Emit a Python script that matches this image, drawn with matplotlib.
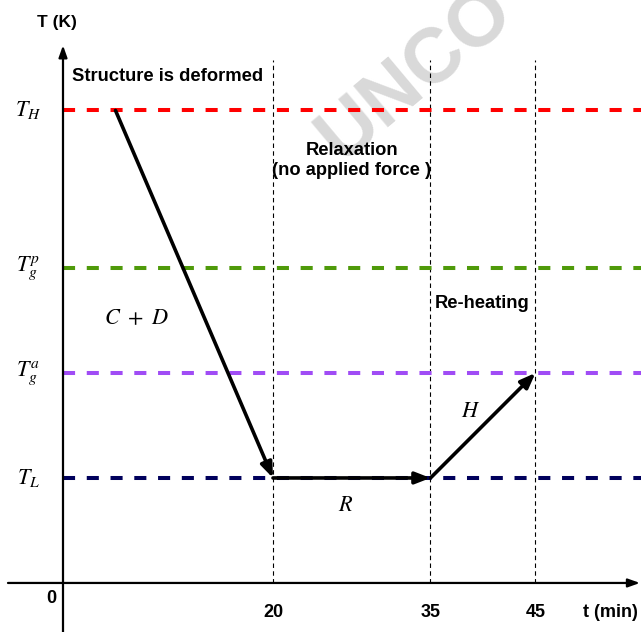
import matplotlib
matplotlib.use("Agg")
import matplotlib.pyplot as plt

plt.rcParams['mathtext.fontset'] = 'stix'
plt.rcParams['font.family'] = ['Liberation Sans', 'DejaVu Sans']

# temperature levels (arbitrary units, axis at 0)
level_names = ['$T_H$', '$T_g^p$', '$T_g^a$', '$T_L$']
level_values = [4.5, 3.0, 2.0, 1.0]
level_colors = ['#ff0000', '#4f9a0a', '#a04cf5', '#00005c']

# time marks (min)
time_marks = [20, 35, 45]
time_labels = ['20', '35', '45']

# path of the process: cooling + deformation, relaxation, re-heating
path_t = [5, 20, 35, 45]
path_T = [4.5, 1.0, 1.0, 2.0]
path_names = ['$C\\ +\\ D$', '$R$', '$H$']

fig = plt.figure(figsize=(6.41, 6.32), dpi=100)
ax = fig.add_axes([0, 0, 1, 1])
ax.set_xlim(-6, 55.05)
ax.set_ylim(-0.467, 5.552)
ax.axis('off')

# watermark
ax.text(341, 632 - 163, 'UNCO', transform=None, fontsize=56,
        fontweight='bold', color='#d9d9d9', rotation=40, rotation_mode='anchor',
        ha='left', va='baseline', zorder=0)

# horizontal levels
for name, val, col in zip(level_names, level_values, level_colors):
    ax.plot([0, 55.05], [val, val], color=col, lw=2.9, dashes=(3, 2.9), zorder=2)
    ax.text(-3.3, val, name, fontsize=16, ha='center', va='center')

# vertical time marks
for t, lab in zip(time_marks, time_labels):
    ax.plot([t, t], [0, 4.98], color='black', lw=0.8, dashes=(4, 3), zorder=1)
    ax.text(t, -0.28, lab, fontsize=13, fontweight='bold', ha='center', va='center')

ax.text(-1.14, -0.15, '0', fontsize=13, fontweight='bold', ha='center', va='center')
ax.text(49.5, -0.28, 't (min)', fontsize=13, fontweight='bold', ha='left', va='center')

# axes with arrows
axis_arrow = dict(arrowstyle='-|>,head_length=0.7,head_width=0.25', lw=1.6,
                  color='black', shrinkA=0, shrinkB=0)
ax.annotate('', xy=(54.95, 0), xytext=(-5.24, 0), arrowprops=axis_arrow, zorder=3)
ax.annotate('', xy=(0, 5.12), xytext=(0, -0.47), arrowprops=axis_arrow, zorder=3)
ax.text(-0.6, 5.34, 'T (K)', fontsize=12.5, fontweight='bold', ha='center', va='center')

# process arrows
for i in range(len(path_t) - 1):
    ax.annotate('', xy=(path_t[i + 1], path_T[i + 1]), xytext=(path_t[i], path_T[i]),
                arrowprops=dict(arrowstyle='-|>,head_length=0.9,head_width=0.35',
                                lw=2.6, color='black', shrinkA=0, shrinkB=0),
                zorder=4)

ax.text(6.95, 2.52, path_names[0], fontsize=16, ha='center', va='center')
ax.text(26.9, 0.74, path_names[1], fontsize=16, ha='center', va='center')
ax.text(38.8, 1.63, path_names[2], fontsize=16, ha='center', va='center')

# annotations
ax.text(0.86, 4.82, 'Structure is deformed', fontsize=13.2, fontweight='bold',
        ha='left', va='center')
ax.text(27.5, 4.12, 'Relaxation', fontsize=13.2, fontweight='bold', ha='center', va='center')
ax.text(27.5, 3.93, '(no applied force )', fontsize=13.2, fontweight='bold',
        ha='center', va='center')
ax.text(39.9, 2.66, 'Re-heating', fontsize=13.2, fontweight='bold', ha='center', va='center')

fig.savefig('out.png', dpi=100)
